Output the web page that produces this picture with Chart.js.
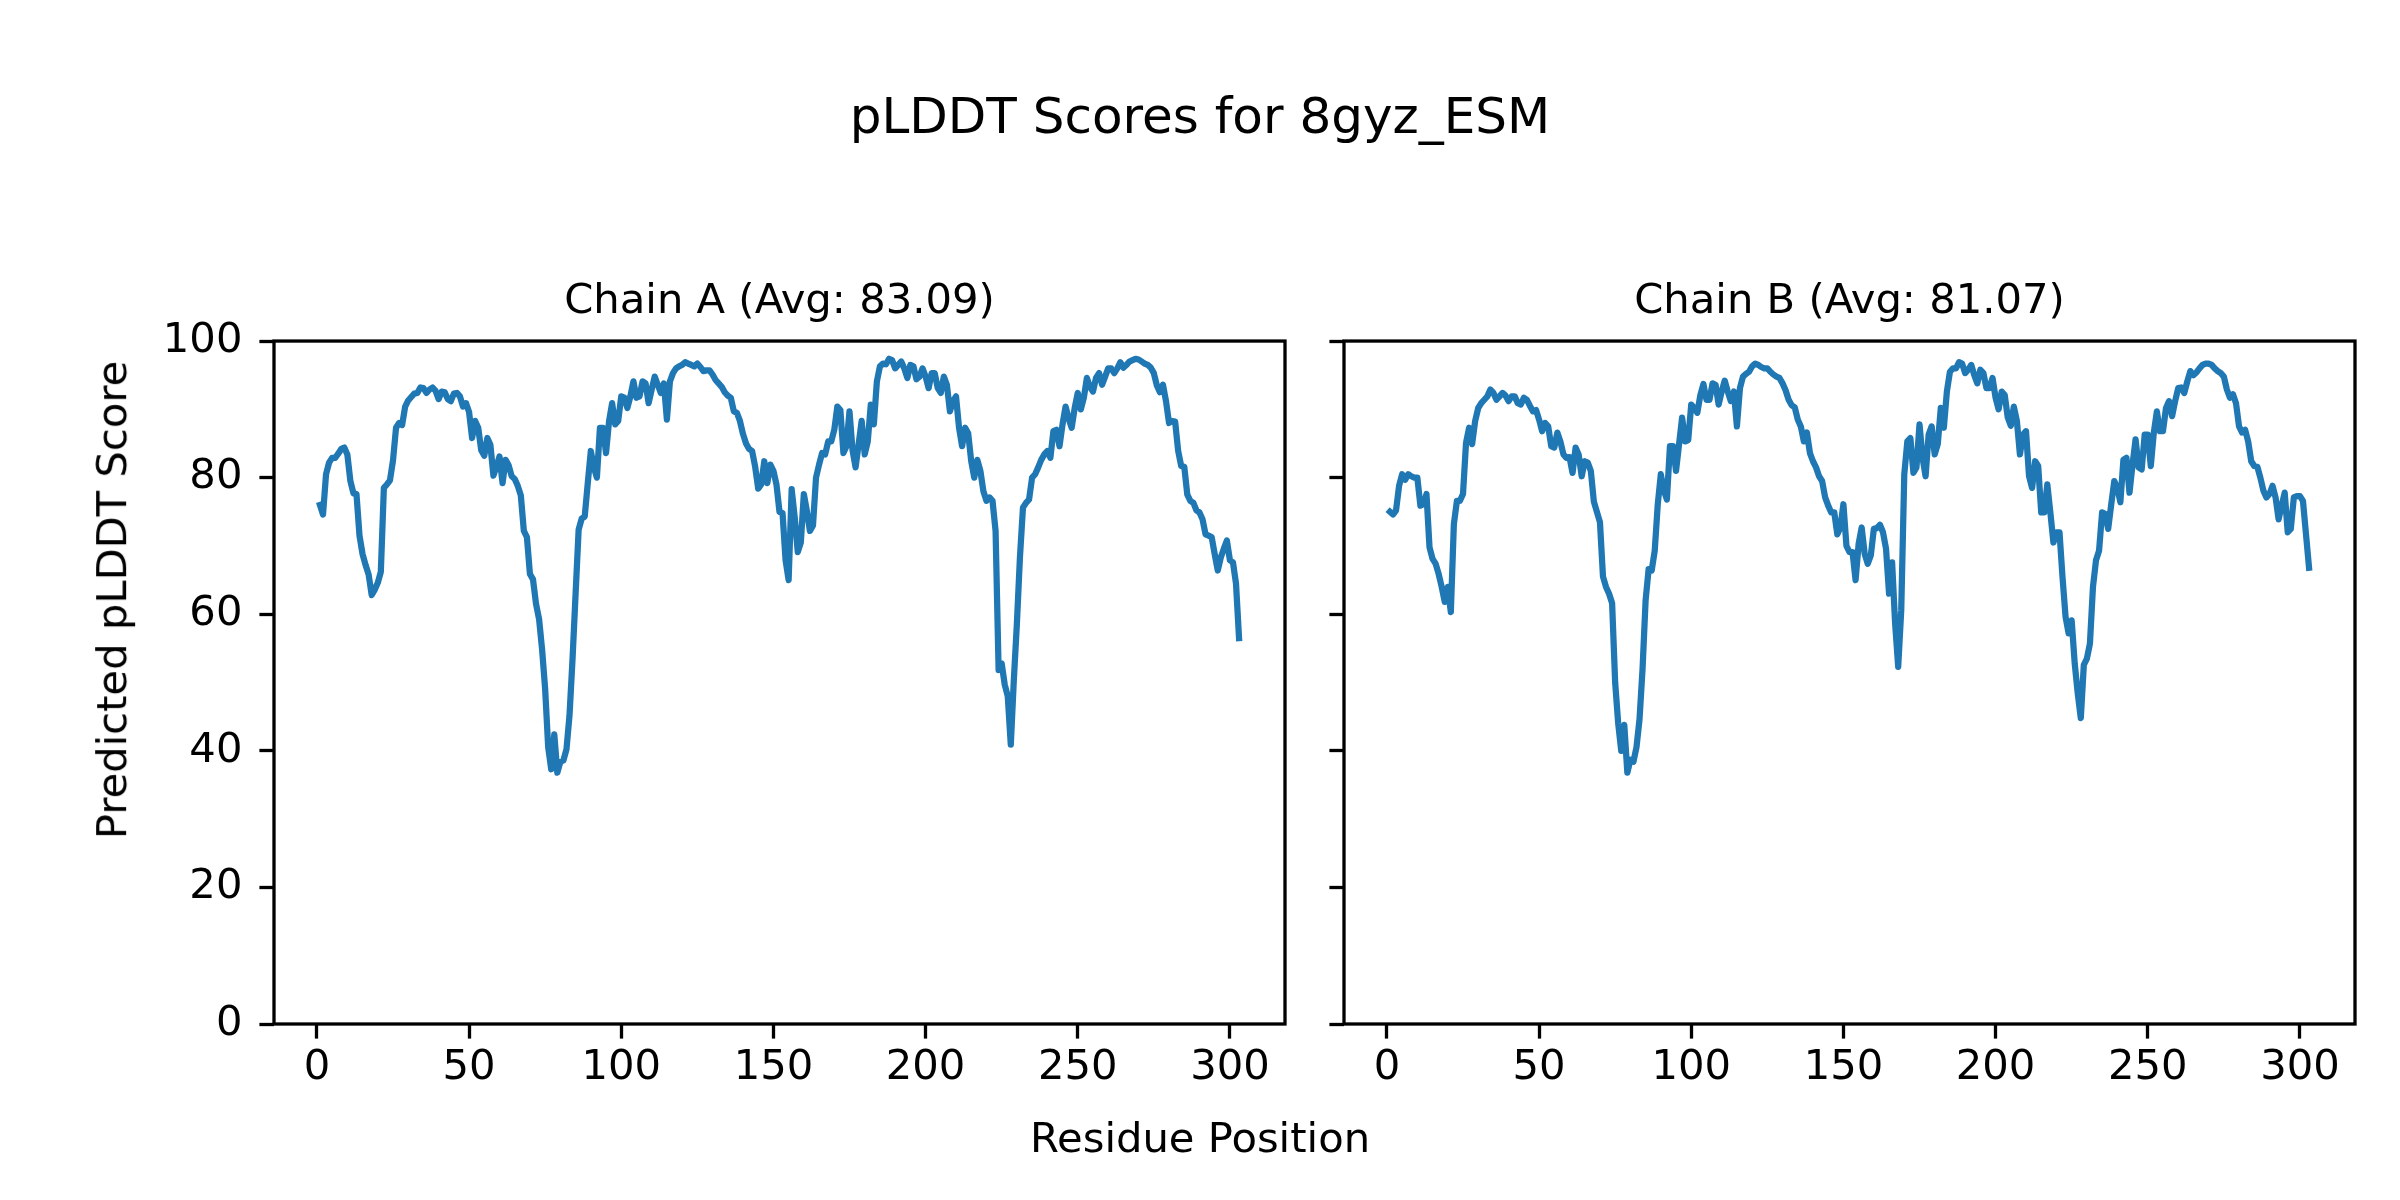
<!DOCTYPE html>
<html>
<head>
<meta charset="utf-8">
<title>pLDDT Scores for 8gyz_ESM</title>
<script src="https://cdn.jsdelivr.net/npm/chart.js@4.4.1/dist/chart.umd.min.js"></script>
<style>
  body { margin: 0; background: #fff; }
  #fig { position: relative; width: 2400px; height: 1200px; background: #fff; font-family: "DejaVu Sans", sans-serif; color: #000; overflow: hidden; }
  .panel { position: absolute; top: 250px; }
  #suptitle { position: absolute; left: 0; top: 91px; width: 2400px; text-align: center; font-size: 50px; line-height: 50px; }
  #xlabel { position: absolute; left: 0; top: 1117px; width: 2400px; text-align: center; font-size: 41.7px; line-height: 41.7px; }
  #ylabel { position: absolute; left: 112px; top: 600px; transform: translate(-50%, -50%) rotate(-90deg); white-space: nowrap; font-size: 41.7px; line-height: 41.7px; }
</style>
</head>
<body>
<div id="fig">
  <div id="suptitle">pLDDT Scores for 8gyz_ESM</div>
  <canvas id="chartA" class="panel" width="1320" height="900" style="left:0px"></canvas>
  <canvas id="chartB" class="panel" width="1320" height="900" style="left:1070px"></canvas>
  <div id="xlabel">Residue Position</div>
  <div id="ylabel">Predicted pLDDT Score</div>
</div>
<script>
// Données : score pLDDT par résidu (résidus 1 à 303)
const firstResidue = 1;

const chainATitle = 'Chain A (Avg: 83.09)';
const chainBTitle = 'Chain B (Avg: 81.07)';

const chainA = [
  76.0, 74.6, 80.5, 82.2, 82.9, 82.9, 83.5, 84.2, 84.4, 83.4,
  79.5, 77.7, 77.6, 71.5, 68.8, 67.2, 65.8, 62.8, 63.6, 64.6,
  66.2, 78.5, 79.0, 79.6, 82.5, 87.3, 88.0, 87.7, 90.4, 91.3,
  91.8, 92.3, 92.4, 93.2, 93.1, 92.4, 92.9, 93.2, 92.7, 91.5,
  92.6, 92.5, 91.5, 91.2, 92.3, 92.4, 91.9, 90.4, 90.9, 89.6,
  85.8, 88.3, 87.3, 84.0, 83.2, 85.8, 84.8, 80.3, 81.6, 83.1,
  79.2, 82.6, 81.8, 80.2, 79.8, 78.8, 77.4, 72.2, 71.3, 65.9,
  65.1, 61.5, 59.3, 54.8, 49.0, 40.5, 37.3, 42.4, 36.8, 38.4,
  38.6, 40.2, 45.2, 53.5, 63.0, 72.4, 74.0, 74.3, 79.2, 83.9,
  81.5, 80.0, 87.3, 87.3, 83.6, 88.3, 90.9, 87.8, 88.3, 91.9,
  91.7, 90.2, 91.9, 94.1, 91.7, 91.9, 94.1, 93.8, 90.9, 92.9,
  94.8, 93.6, 92.4, 93.8, 88.5, 94.1, 95.3, 96.0, 96.3, 96.5,
  96.9, 96.7, 96.5, 96.3, 96.7, 96.2, 95.6, 95.7, 95.7, 95.1,
  94.3, 93.8, 93.3, 92.5, 92.0, 91.7, 89.7, 89.5, 88.3, 86.4,
  85.0, 84.2, 83.9, 81.6, 78.4, 79.0, 82.4, 79.2, 81.9, 81.0,
  79.0, 75.0, 74.8, 67.9, 65.0, 78.3, 74.2, 69.1, 70.5, 77.6,
  75.1, 72.2, 73.0, 80.0, 81.9, 83.6, 83.4, 85.3, 85.3, 87.0,
  90.4, 89.9, 83.6, 84.6, 89.7, 84.0, 81.5, 84.9, 88.3, 83.4,
  85.3, 90.7, 87.8, 94.1, 96.3, 96.7, 96.6, 97.4, 97.2, 96.0,
  96.5, 97.0, 96.0, 94.6, 96.5, 96.3, 94.4, 94.8, 96.0, 94.8,
  93.1, 95.3, 95.3, 93.1, 92.4, 94.8, 93.6, 89.7, 91.2, 91.9,
  87.3, 84.6, 87.3, 86.5, 82.4, 80.0, 82.6, 81.0, 78.0, 76.6,
  77.1, 76.6, 72.2, 51.8, 52.8, 49.7, 48.0, 40.9, 50.4, 58.6,
  68.3, 75.6, 76.3, 76.8, 80.0, 80.5, 81.5, 82.6, 83.4, 83.9,
  82.9, 86.8, 87.0, 84.6, 87.8, 90.4, 88.7, 87.3, 90.2, 92.4,
  90.0, 91.7, 94.6, 93.3, 92.6, 94.6, 95.3, 93.6, 94.8, 96.0,
  96.0, 95.3, 96.0, 96.9, 96.1, 96.5, 97.0, 97.2, 97.4, 97.3,
  97.0, 96.7, 96.5, 96.1, 95.3, 93.5, 92.5, 93.6, 91.2, 88.0,
  88.3, 88.2, 83.9, 81.7, 81.6, 77.5, 76.6, 76.3, 75.2, 74.9,
  73.9, 71.7, 71.5, 71.3, 68.8, 66.4, 68.3, 69.6, 70.8, 67.9,
  67.6, 64.5, 56.5
];

const chainB = [
  75.0, 74.6, 75.2, 78.8, 80.5, 79.7, 80.5, 80.2, 80.0, 80.0,
  75.9, 76.1, 77.6, 69.8, 68.1, 67.4, 65.9, 64.0, 61.8, 64.0,
  60.3, 73.2, 76.6, 76.6, 77.6, 85.1, 87.3, 84.9, 88.3, 90.2,
  90.9, 91.4, 91.9, 92.9, 92.4, 91.4, 91.9, 92.4, 92.0, 91.2,
  91.9, 91.9, 90.9, 90.7, 91.7, 91.4, 90.5, 89.7, 89.9, 88.5,
  86.8, 88.0, 87.5, 84.6, 84.4, 86.6, 85.3, 83.4, 82.9, 83.0,
  80.7, 84.4, 83.4, 80.2, 82.4, 82.2, 81.0, 76.5, 75.0, 73.5,
  65.5, 64.0, 63.0, 61.6, 50.0, 44.0, 40.0, 43.8, 36.8, 38.7,
  38.4, 40.5, 44.6, 52.0, 62.0, 66.6, 66.4, 69.3, 76.1, 80.5,
  78.1, 76.8, 84.6, 84.6, 81.0, 84.9, 88.8, 85.3, 85.5, 90.7,
  90.2, 89.5, 92.1, 93.7, 91.4, 91.4, 93.8, 93.6, 90.7, 92.6,
  94.2, 92.6, 91.2, 92.6, 87.5, 93.1, 94.8, 95.2, 95.5, 96.3,
  96.7, 96.5, 96.2, 96.0, 96.0, 95.5, 95.1, 94.8, 94.6, 93.8,
  92.8, 91.4, 90.6, 90.3, 88.5, 87.5, 85.3, 86.6, 83.6, 82.4,
  81.5, 80.2, 79.5, 77.1, 75.9, 74.9, 74.9, 71.7, 72.7, 76.1,
  70.0, 69.1, 69.1, 65.0, 70.3, 72.7, 68.8, 67.4, 68.6, 72.5,
  72.6, 73.1, 72.0, 69.6, 63.0, 67.6, 58.6, 52.3, 60.6, 80.5,
  85.3, 85.8, 80.7, 81.5, 87.8, 82.9, 80.2, 86.3, 87.5, 83.4,
  84.9, 90.2, 87.3, 92.6, 95.5, 96.0, 96.0, 96.9, 96.7, 95.3,
  95.8, 96.5, 95.0, 93.8, 95.8, 95.3, 93.1, 93.1, 94.6, 91.7,
  90.0, 92.6, 92.1, 88.8, 87.6, 90.4, 88.3, 83.4, 86.3, 86.8,
  80.2, 78.5, 82.4, 81.7, 74.9, 74.9, 79.0, 74.9, 70.5, 72.0,
  72.0, 65.4, 59.6, 57.2, 59.1, 52.8, 48.4, 44.8, 52.6, 53.5,
  55.7, 64.0, 67.9, 69.3, 74.9, 74.7, 72.5, 76.1, 79.5, 78.5,
  76.4, 82.6, 82.9, 77.8, 81.9, 85.6, 81.5, 81.2, 86.3, 86.3,
  81.7, 86.6, 89.7, 86.8, 86.8, 90.2, 91.2, 89.0, 91.2, 93.1,
  93.2, 92.4, 94.1, 95.6, 95.0, 95.4, 96.0, 96.5, 96.7, 96.7,
  96.5, 96.0, 95.6, 95.3, 94.8, 92.9, 91.7, 92.2, 90.9, 87.5,
  86.6, 87.0, 85.3, 82.4, 81.7, 81.6, 80.0, 78.1, 77.1, 77.6,
  78.8, 77.1, 73.9, 75.9, 77.8, 72.0, 72.5, 77.1, 77.3, 77.3,
  76.6, 71.7, 66.8
];

// Graduations des axes
const xTicks = [0, 50, 100, 150, 200, 250, 300];
const yTicks = [0, 20, 40, 60, 80, 100];

const FONT = 'DejaVu Sans';
const lineColor = '#1f77b4';

// Marges de 5 % autour des données, comme matplotlib
const lastResidue = firstResidue + chainA.length - 1;
const xMargin = 0.05 * (lastResidue - firstResidue);

// Cadre noir autour de la zone de tracé
const framePlugin = {
  id: 'frame',
  afterDatasetsDraw(chart) {
    const { ctx, chartArea } = chart;
    ctx.save();
    ctx.strokeStyle = '#000';
    ctx.lineWidth = 3.3;
    ctx.strokeRect(chartArea.left, chartArea.top,
      chartArea.right - chartArea.left, chartArea.bottom - chartArea.top);
    ctx.restore();
  }
};

function makeConfig(title, values, showYLabels) {
  return {
    type: 'line',
    data: {
      datasets: [{
        data: values.map((v, i) => ({ x: firstResidue + i, y: v })),
        borderColor: lineColor,
        borderWidth: 6.25,
        borderCapStyle: 'square',
        borderJoinStyle: 'round',
        pointRadius: 0,
        tension: 0,
        fill: false
      }]
    },
    options: {
      responsive: false,
      devicePixelRatio: 1,
      animation: false,
      events: [],
      layout: { padding: { top: 0, left: 0, right: 35, bottom: 0 } },
      plugins: {
        legend: { display: false },
        tooltip: { enabled: false },
        title: {
          display: true,
          text: title,
          fullSize: false,
          color: '#000',
          font: { family: FONT, size: 41.7, weight: 'normal' },
          padding: { top: 27.5, bottom: 13.5 }
        }
      },
      scales: {
        x: {
          type: 'linear',
          min: firstResidue - xMargin,
          max: lastResidue + xMargin,
          afterBuildTicks: scale => { scale.ticks = xTicks.map(v => ({ value: v })); },
          afterFit: scale => { scale.height = 126; },
          border: { display: false },
          grid: { drawOnChartArea: false, drawTicks: true, tickLength: 14.6, tickWidth: 3.3, tickColor: '#000', color: '#000' },
          ticks: {
            color: '#000',
            font: { family: FONT, size: 41.7 },
            padding: 5,
            maxRotation: 0,
            autoSkip: false,
            callback: v => String(v)
          }
        },
        y: {
          min: 0,
          max: 100,
          afterBuildTicks: scale => { scale.ticks = yTicks.map(v => ({ value: v })); },
          afterFit: scale => { scale.width = 274; },
          border: { display: false },
          grid: { drawOnChartArea: false, drawTicks: true, tickLength: 14.6, tickWidth: 3.3, tickColor: '#000', color: '#000' },
          ticks: {
            display: showYLabels,
            color: '#000',
            font: { family: FONT, size: 41.7 },
            padding: 17,
            callback: v => String(v)
          }
        }
      }
    },
    plugins: [framePlugin]
  };
}

new Chart(document.getElementById('chartA').getContext('2d'), makeConfig(chainATitle, chainA, true));
new Chart(document.getElementById('chartB').getContext('2d'), makeConfig(chainBTitle, chainB, false));
</script>
</body>
</html>
